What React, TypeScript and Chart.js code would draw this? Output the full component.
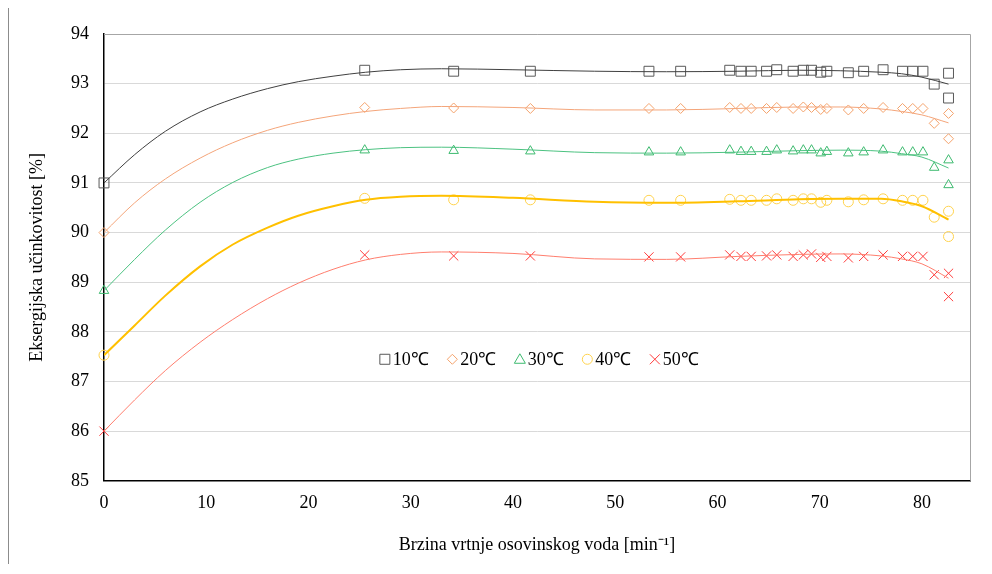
import React, { useEffect, useRef } from 'react';
import { Chart, registerables } from 'chart.js';

Chart.register(...registerables);

// Measured points: shaft rotation speed [min^-1]
const rpm = [0, 25.5, 34.2, 41.7, 53.3, 56.4, 61.2, 62.3, 63.3, 64.8, 65.8, 67.4, 68.4, 69.2, 70.1, 70.7, 72.8, 74.3, 76.2, 78.1, 79.1, 80.1, 81.2, 82.6, 82.6];

// Exergy efficiency [%] per water temperature
const eff10 = [91.0, 93.27, 93.25, 93.25, 93.25, 93.25, 93.27, 93.25, 93.25, 93.25, 93.28, 93.25, 93.27, 93.27, 93.23, 93.25, 93.22, 93.25, 93.28, 93.25, 93.25, 93.25, 92.99, 93.21, 92.71];
const eff20 = [90.0, 92.52, 92.51, 92.50, 92.50, 92.50, 92.52, 92.50, 92.50, 92.50, 92.52, 92.50, 92.53, 92.52, 92.48, 92.50, 92.47, 92.50, 92.52, 92.50, 92.50, 92.50, 92.20, 92.40, 91.89];
const eff30 = [88.83, 91.66, 91.65, 91.64, 91.62, 91.62, 91.66, 91.63, 91.63, 91.63, 91.66, 91.64, 91.66, 91.66, 91.60, 91.63, 91.60, 91.62, 91.66, 91.62, 91.62, 91.62, 91.31, 91.46, 90.96];
const eff40 = [87.53, 90.69, 90.66, 90.66, 90.65, 90.65, 90.67, 90.65, 90.65, 90.65, 90.68, 90.65, 90.68, 90.68, 90.61, 90.65, 90.62, 90.66, 90.68, 90.65, 90.65, 90.65, 90.31, 90.43, 89.92];
const eff50 = [86.0, 89.55, 89.53, 89.53, 89.51, 89.51, 89.55, 89.52, 89.52, 89.53, 89.55, 89.52, 89.55, 89.57, 89.50, 89.52, 89.49, 89.52, 89.55, 89.52, 89.52, 89.52, 89.15, 89.18, 88.71];

// Trend lines
const trendX = [0, 3, 6, 9.4, 12.6, 16, 19, 22.4, 25.6, 29, 33, 40, 48, 55, 62, 68, 72, 76, 78, 80, 82.6];
const trend10 = [91.0, 91.57, 92.04, 92.43, 92.69, 92.90, 93.04, 93.15, 93.23, 93.28, 93.30, 93.28, 93.25, 93.24, 93.25, 93.27, 93.26, 93.23, 93.20, 93.13, 92.99];
const trend20 = [90.0, 90.60, 91.08, 91.50, 91.81, 92.06, 92.22, 92.35, 92.44, 92.50, 92.54, 92.52, 92.47, 92.47, 92.50, 92.53, 92.53, 92.49, 92.44, 92.37, 92.21];
const trend30 = [88.83, 89.46, 90.05, 90.61, 91.01, 91.31, 91.48, 91.60, 91.67, 91.71, 91.72, 91.68, 91.61, 91.60, 91.62, 91.65, 91.66, 91.64, 91.59, 91.52, 91.30];
const trend40 = [87.53, 88.13, 88.73, 89.32, 89.76, 90.10, 90.34, 90.53, 90.66, 90.72, 90.74, 90.70, 90.62, 90.60, 90.63, 90.67, 90.68, 90.68, 90.63, 90.53, 90.26];
const trend50 = [86.0, 86.63, 87.22, 87.79, 88.25, 88.67, 88.98, 89.26, 89.45, 89.56, 89.61, 89.58, 89.47, 89.46, 89.52, 89.56, 89.57, 89.53, 89.47, 89.37, 89.08];

const seriesLabels = ['10\u2103', '20\u2103', '30\u2103', '40\u2103', '50\u2103'];
const xTicks = [0, 10, 20, 30, 40, 50, 60, 70, 80];
const yTicks = [85, 86, 87, 88, 89, 90, 91, 92, 93, 94];
const xTitle = 'Brzina vrtnje osovinskog voda [min\u207B\u00B9]';
const yTitle = 'Eksergijska u\u010Dinkovitost [%]';

const pointSeries = [eff10, eff20, eff30, eff40, eff50];
const trendSeries = [trend10, trend20, trend30, trend40, trend50];

const markerColors = ['#595959', '#F4A26B', '#3DBA6F', '#FFD24D', '#FF3B3B'];
const lineColors = ['#404040', '#F4A57A', '#4CC281', '#FFC000', '#FF7E6E'];
const lineWidths = [1, 1, 1, 2, 1];
const pointStyles = ['rect', 'rectRot', 'triangle', 'circle', 'crossRot'];
const pointRadii = [7, 5, 5.5, 5, 6.5];

const FONT = "'Liberation Serif', 'Times New Roman', serif";

function drawMarker(ctx: CanvasRenderingContext2D, style: string, x: number, y: number) {
  ctx.beginPath();
  if (style === 'rect') {
    ctx.rect(x - 5, y - 5, 10, 10);
  } else if (style === 'rectRot') {
    ctx.moveTo(x - 5, y); ctx.lineTo(x, y - 5); ctx.lineTo(x + 5, y); ctx.lineTo(x, y + 5); ctx.closePath();
  } else if (style === 'triangle') {
    ctx.moveTo(x, y - 5.5); ctx.lineTo(x + 5.5, y + 4); ctx.lineTo(x - 5.5, y + 4); ctx.closePath();
  } else if (style === 'circle') {
    ctx.arc(x, y, 5, 0, Math.PI * 2);
  } else {
    ctx.moveTo(x - 5, y - 5); ctx.lineTo(x + 5, y + 5); ctx.moveTo(x + 5, y - 5); ctx.lineTo(x - 5, y + 5);
  }
  ctx.stroke();
}

const framePlugin = {
  id: 'frame',
  beforeDatasetsDraw(chart: any) {
    const { ctx, chartArea } = chart;
    ctx.save();
    ctx.strokeStyle = '#a6a6a6';
    ctx.lineWidth = 1;
    ctx.beginPath();
    ctx.moveTo(chartArea.left, Math.round(chartArea.top) + 0.5);
    ctx.lineTo(Math.round(chartArea.right) + 0.5, Math.round(chartArea.top) + 0.5);
    ctx.lineTo(Math.round(chartArea.right) + 0.5, chartArea.bottom);
    ctx.stroke();
    ctx.restore();
  },
};

const legendPlugin = {
  id: 'innerLegend',
  afterDraw(chart: any) {
    const { ctx, chartArea } = chart;
    ctx.save();
    ctx.font = `18px ${FONT}`;
    ctx.textBaseline = 'middle';
    ctx.textAlign = 'left';
    const w = chartArea.right - chartArea.left;
    const y = chartArea.top + (chartArea.bottom - chartArea.top) * 0.728;
    seriesLabels.forEach((label, i) => {
      const cx = chartArea.left + w * 0.3243 + i * 67.5;
      ctx.strokeStyle = markerColors[i];
      ctx.lineWidth = 1;
      drawMarker(ctx, pointStyles[i], cx, y);
      ctx.fillStyle = '#000';
      ctx.fillText(label, cx + 8, y + 1);
    });
    ctx.restore();
  },
};

export default function App() {
  const canvasRef = useRef<HTMLCanvasElement | null>(null);

  useEffect(() => {
    if (!canvasRef.current) return;
    const datasets: any[] = [];
    trendSeries.forEach((ys, i) => {
      datasets.push({
        label: seriesLabels[i] + ' trend',
        data: trendX.map((x, k) => ({ x, y: ys[k] })),
        showLine: true,
        borderColor: lineColors[i],
        borderWidth: lineWidths[i],
        pointRadius: 0,
        cubicInterpolationMode: 'monotone',
        fill: false,
      });
    });
    pointSeries.forEach((ys, i) => {
      datasets.push({
        label: seriesLabels[i],
        data: rpm.map((x, k) => ({ x, y: ys[k] })),
        showLine: false,
        pointStyle: pointStyles[i],
        pointRadius: pointRadii[i],
        pointBorderColor: markerColors[i],
        pointBackgroundColor: 'rgba(0,0,0,0)',
        pointBorderWidth: 1,
        clip: false,
      });
    });

    const chart = new Chart(canvasRef.current, {
      type: 'scatter',
      data: { datasets },
      options: {
        animation: false,
        responsive: true,
        maintainAspectRatio: false,
        layout: { padding: { top: 26, right: 14, bottom: 0, left: 0 } },
        plugins: { legend: { display: false }, tooltip: { enabled: false } },
        scales: {
          x: {
            type: 'linear', min: 0, max: 84.7,
            afterBuildTicks: (scale: any) => { scale.ticks = xTicks.map((v) => ({ value: v })); },
            afterFit: (scale: any) => { scale.height = 83.2; },
            grid: { display: false, drawTicks: false },
            border: { display: true, color: '#000', width: 1.5 },
            ticks: { padding: 12, color: '#000', font: { family: FONT, size: 18 }, maxRotation: 0 },
            title: { display: true, text: xTitle, color: '#000', font: { family: FONT, size: 18 }, padding: { top: 0, bottom: 8 } },
          },
          y: {
            type: 'linear', min: 85, max: 94,
            afterBuildTicks: (scale: any) => { scale.ticks = yTicks.map((v) => ({ value: v })); },
            afterFit: (scale: any) => { scale.width = 95; },
            grid: { color: '#d9d9d9', lineWidth: 1, drawTicks: false },
            border: { display: true, color: '#000', width: 1.5 },
            ticks: { padding: 15, color: '#000', font: { family: FONT, size: 18 } },
            title: { display: true, text: yTitle, color: '#000', font: { family: FONT, size: 18 }, padding: { top: 17, bottom: 0 } },
          },
        },
      } as any,
      plugins: [framePlugin, legendPlugin],
    });
    return () => chart.destroy();
  }, []);

  return (
    <div style={{ position: 'relative', width: 975, height: 556, borderLeft: '1px solid #8c8c8c' }}>
      <canvas ref={canvasRef} />
    </div>
  );
}
